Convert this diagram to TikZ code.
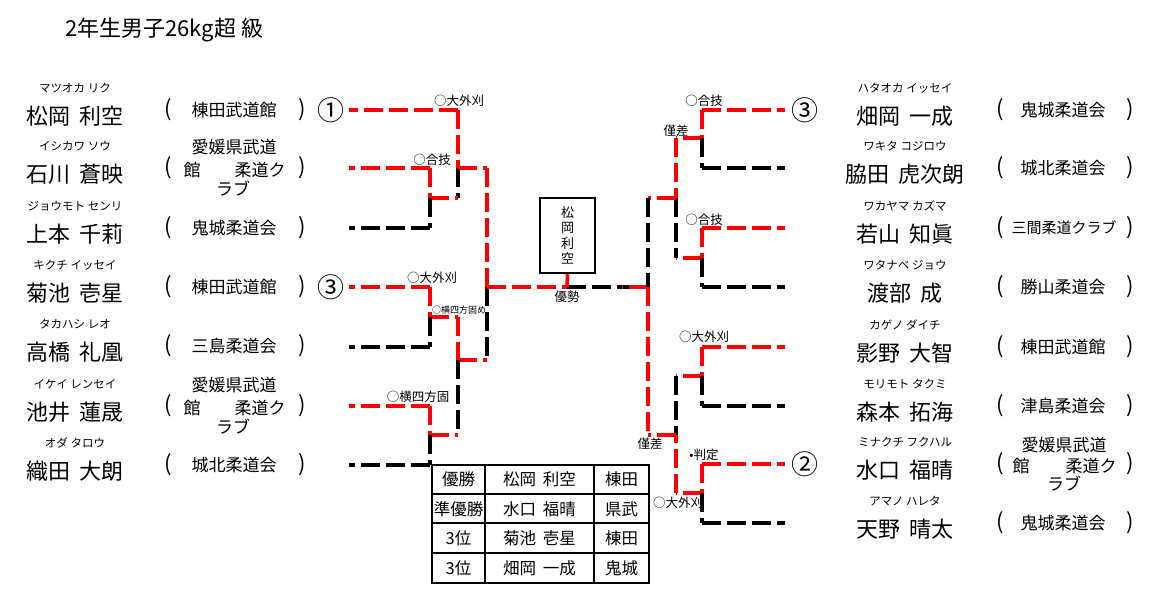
\documentclass[tikz,border=0pt]{standalone}
\usepackage{fontspec}
\setmainfont{Noto Sans CJK JP}
\newcommand{\gap}{\hspace{0.42em}}
\tikzset{
 win/.style={draw=red, line width=3.5pt, dash pattern=on 19pt off 6pt},
 lose/.style={draw=black, line width=3.5pt, dash pattern=on 19pt off 6pt},
 pname/.style={font=\fontsize{22}{24}\selectfont, inner sep=0pt},
 kana/.style={font=\fontsize{11.5}{13}\selectfont, inner sep=0pt},
 club/.style={font=\fontsize{17}{19}\selectfont, inner sep=0pt},
 clubs/.style={font=\fontsize{15}{17}\selectfont, inner sep=0pt},
 paren/.style={font=\fontsize{22}{24}\selectfont, inner sep=0pt},
 lbl/.style={font=\fontsize{12.5}{14}\selectfont, inner sep=0pt},
 lbls/.style={font=\fontsize{9}{10}\selectfont, inner sep=0pt},
 circ/.style={font=\fontsize{27}{30}\selectfont, inner sep=0pt},
 cell/.style={font=\fontsize{16.5}{18}\selectfont, inner sep=0pt},
}
\begin{document}
\begin{tikzpicture}[x=1pt,y=-1pt]
\useasboundingbox[fill=white] (0,0) rectangle (1164,598);
% title
\node[font=\fontsize{22}{24}\selectfont, inner sep=0pt, anchor=west] (title) at (65,30) {2年生男子26kg超\hspace{0.25em}級};
% left players
\foreach \i/\y/\k/\n in {1/110/マツオカ リク/松岡\gap 利空, 2/168/イシカワ ソウ/石川\gap 蒼映, 3/228/ジョウモト センリ/上本\gap 千莉, 4/287/キクチ イッセイ/菊池\gap 壱星, 5/346/タカハシ レオ/高橋\gap 礼凰, 6/406/イケイ レンセイ/池井\gap 蓮晟, 7/465/オダ タロウ/織田\gap 大朗}{
 \node[pname] (ln\i) at (75,\y+6) {\n};
 \node[kana] (lk\i) at (75,\y-22) {\k};
 \node[paren] (lpa\i) at (168,\y) {(};
 \node[paren] (lpb\i) at (302,\y) {)};
}
\foreach \i/\y/\c in {1/110/棟田武道館, 3/228/鬼城柔道会, 4/287/棟田武道館, 5/346/三島柔道会, 7/465/城北柔道会}{
 \node[club] (lc\i) at (234,\y) {\c};
}
\foreach \i/\y in {2/168, 6/406}{
 \node[club] (lca\i) at (234,\y-21) {愛媛県武道};
 \node[club] (lcb\i) at (192,\y+2) {館};
 \node[club] (lcc\i) at (260,\y+2) {柔道ク};
 \node[club] (lcd\i) at (233,\y+21) {ラブ};
}
% right players
\foreach \i/\y/\k/\n in {1/110/ハタオカ イッセイ/畑岡\gap 一成, 2/168/ワキタ コジロウ/脇田\gap 虎次朗, 3/228/ワカヤマ カズマ/若山\gap 知眞, 4/287/ワタナベ ジョウ/渡部\gap 成, 5/347/カゲノ ダイチ/影野\gap 大智, 6/406/モリモト タクミ/森本\gap 拓海, 7/464/ミナクチ フクハル/水口\gap 福晴, 8/523/アマノ ハレタ/天野\gap 晴太}{
 \node[pname] (rn\i) at (905,\y+6) {\n};
 \node[kana] (rk\i) at (905,\y-22) {\k};
 \node[paren] (rpa\i) at (1000,\y) {(};
 \node[paren] (rpb\i) at (1130,\y) {)};
}
\foreach \i/\y/\c in {1/110/鬼城柔道会, 2/168/城北柔道会, 4/287/勝山柔道会, 5/347/棟田武道館, 6/406/津島柔道会, 8/523/鬼城柔道会}{
 \node[club] (rc\i) at (1063,\y) {\c};
}
\node[clubs] (rc3) at (1064,228) {三間柔道クラブ};
\node[club] (rca7) at (1064,445) {愛媛県武道};
\node[club] (rcb7) at (1021,466) {館};
\node[club] (rcc7) at (1091,466) {柔道ク};
\node[club] (rcd7) at (1064,484) {ラブ};
% circled numbers
\node[circ] (c1) at (331,110) {①};
\node[circ] (c3l) at (331,287) {③};
\node[circ] (c3r) at (805,110) {③};
\node[circ] (c2) at (805,464) {②};
% left coordinates
\foreach \i/\y in {1/110,2/168,3/228,4/287,5/347,6/406,7/465}{
 \coordinate (s\i) at (349,\y);
}
\coordinate (j1) at (458,110);
\coordinate (j2) at (430,168);
\coordinate (j3) at (430,228);
\coordinate (j4) at (430,287);
\coordinate (j5) at (430,347);
\coordinate (j6) at (430,406);
\coordinate (j7) at (430,465);
\coordinate (m23) at (430,198);
\coordinate (m45) at (430,317);
\coordinate (m67) at (430,435);
\coordinate (r23) at (458,198);
\coordinate (r45) at (458,317);
\coordinate (r67) at (458,435);
\coordinate (m123) at (458,168);
\coordinate (m4567) at (458,360);
\coordinate (q123) at (487,168);
\coordinate (q4567) at (487,360);
\coordinate (sf) at (487,287);
\coordinate (fc) at (567,287);
\coordinate (fm) at (622,287);
\coordinate (fr) at (648,287);
% right coordinates
\foreach \i/\y in {1/110,2/168,3/228,4/287,5/347,6/406,7/464,8/523}{
 \coordinate (t\i) at (785,\y);
 \coordinate (k\i) at (702,\y);
}
\coordinate (n12) at (702,138);
\coordinate (n34) at (702,258);
\coordinate (n56) at (702,376);
\coordinate (n78) at (702,493);
\coordinate (u12) at (676,138);
\coordinate (u34) at (676,258);
\coordinate (u56) at (676,376);
\coordinate (u78) at (676,493);
\coordinate (o14) at (676,198);
\coordinate (o58) at (676,435);
\coordinate (v14) at (648,198);
\coordinate (v58) at (648,435);
% left bracket
\draw[win] (j1) -- (s1);
\draw[win] (j1) -- (m123);
\draw[lose] (m123) -- (r23);
\draw[win] (m123) -- (q123);
\draw[win] (q123) -- (sf);
\draw[lose] (sf) -- (q4567);
\draw[win] (j2) -- (s2);
\draw[win] (j2) -- (m23);
\draw[win] (m23) -- (r23);
\draw[lose] (m23) -- (j3);
\draw[lose] (j3) -- (s3);
\draw[win] (j4) -- (s4);
\draw[win] (j4) -- (m45);
\draw[win] (m45) -- (r45);
\draw[lose] (m45) -- (j5);
\draw[lose] (j5) -- (s5);
\draw[win] (r45) -- (m4567);
\draw[win] (m4567) -- (q4567);
\draw[lose] (m4567) -- (r67);
\draw[win] (j6) -- (s6);
\draw[win] (j6) -- (m67);
\draw[win] (m67) -- (r67);
\draw[lose] (m67) -- (j7);
\draw[lose] (j7) -- (s7);
% final
\draw[win] (sf) -- (fc);
\draw[lose] (fc) -- (fr);
\draw[win] (fr) -- (fm);
% right bracket
\draw[win] (k1) -- (t1);
\draw[win] (k1) -- (n12);
\draw[win] (n12) -- (u12);
\draw[lose] (n12) -- (k2);
\draw[lose] (k2) -- (t2);
\draw[win] (k3) -- (t3);
\draw[win] (k3) -- (n34);
\draw[win] (n34) -- (u34);
\draw[lose] (n34) -- (k4);
\draw[lose] (k4) -- (t4);
\draw[win] (u12) -- (o14);
\draw[lose] (o14) -- (u34);
\draw[win] (o14) -- (v14);
\draw[lose] (v14) -- (fr);
\draw[win] (fr) -- (v58);
\draw[win] (k5) -- (t5);
\draw[win] (k5) -- (n56);
\draw[win] (n56) -- (u56);
\draw[lose] (n56) -- (k6);
\draw[lose] (k6) -- (t6);
\draw[win] (k7) -- (t7);
\draw[win] (k7) -- (n78);
\draw[win] (n78) -- (u78);
\draw[lose] (n78) -- (k8);
\draw[lose] (k8) -- (t8);
\draw[lose] (u56) -- (o58);
\draw[win] (u78) -- (o58);
\draw[win] (o58) -- (v58);
% champion box
\node[draw, line width=1.5pt, fill=white, minimum width=55pt, minimum height=75pt, inner sep=0pt, align=center, font=\fontsize{13}{15.3}\selectfont] (champ) at (567.5,235.5) {松\\岡\\利\\空};
\draw[red, line width=3.5pt] (champ.south) -- (fc);
% labels
\node[lbl] (a1) at (459,101) {○大外刈};
\node[lbl] (a2) at (432,160) {○合技};
\node[lbl] (a3) at (432,278) {○大外刈};
\node[lbls] (a4) at (459,310) {○横四方固め};
\node[lbl] (a5) at (418,397) {○横四方固};
\node[lbl] (a6) at (567,297) {優勢};
\node[lbl] (b1) at (704,101) {○合技};
\node[lbl] (b2) at (676,131) {僅差};
\node[lbl] (b3) at (704,220) {○合技};
\node[lbl] (b4) at (704,337) {○大外刈};
\node[lbl] (b5) at (650,444) {僅差};
\node[lbl] (b6) at (704,455) {•判定};
\node[lbl] (b7) at (678,503) {○大外刈};
% result table
\draw[line width=1.8pt, fill=white] (432,465) rectangle (649,583);
\draw[line width=1.5pt] (485,465) -- (485,583);
\draw[line width=1.5pt] (594,465) -- (594,583);
\draw[line width=1.5pt] (432,494) -- (649,494);
\draw[line width=1.5pt] (432,523) -- (649,523);
\draw[line width=1.5pt] (432,553) -- (649,553);
\foreach \r/\y/\a/\b/\c in {1/479/優勝/松岡\gap 利空/棟田, 2/509/準優勝/水口\gap 福晴/県武, 3/538/3位/菊池\gap 壱星/棟田, 4/568/3位/畑岡\gap 一成/鬼城}{
 \node[cell] (ta\r) at (458.5,\y) {\a};
 \node[cell] (tb\r) at (539.5,\y) {\b};
 \node[cell] (tc\r) at (621.5,\y) {\c};
}
\end{tikzpicture}
\end{document}
